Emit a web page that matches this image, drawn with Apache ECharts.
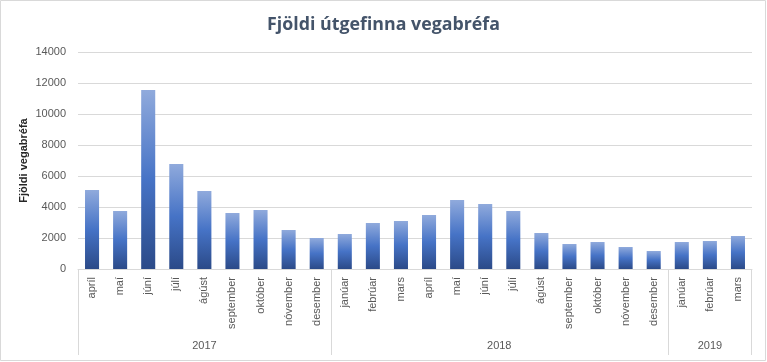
<!DOCTYPE html>
<html>
<head>
<meta charset="utf-8">
<script src="https://cdn.jsdelivr.net/npm/echarts@6/dist/echarts.min.js"></script>
<style>html,body{margin:0;padding:0;background:#fff}#c{width:767px;height:362px}</style>
</head>
<body>
<div id="c"></div>
<script>
var months = ['apríl','maí','júní','júlí','ágúst','september','október','nóvember','desember',
  'janúar','febrúar','mars','apríl','maí','júní','júlí','ágúst','september','október','nóvember','desember',
  'janúar','febrúar','mars'];
var monthYears = ['2017','2017','2017','2017','2017','2017','2017','2017','2017',
  '2018','2018','2018','2018','2018','2018','2018','2018','2018','2018','2018','2018',
  '2019','2019','2019'];
var passports = [5100, 3750, 11550, 6780, 5030, 3610, 3810, 2520, 2000,
  2260, 2970, 3100, 3480, 4450, 4190, 3740, 2320, 1610, 1740, 1420, 1160,
  1740, 1810, 2130];
var yTicks = [0, 2000, 4000, 6000, 8000, 10000, 12000, 14000];

var chart = echarts.init(document.getElementById('c'), null, {renderer: 'canvas'});
var gridLeft = 78, gridRight = 15, gridTop = 52, gridBottom = 93;
chart.setOption({
  animation: false,
  title: {
    text: 'Fjöldi útgefinna vegabréfa',
    left: 'center', top: 11,
    textStyle: {fontFamily: 'Open Sans', fontWeight: 'bold', fontSize: 17.8, color: '#44546A'}
  },
  grid: {left: gridLeft, right: gridRight, top: gridTop, bottom: gridBottom, containLabel: false},
  xAxis: {
    type: 'category',
    data: months,
    axisTick: {show: false},
    axisLine: {lineStyle: {color: '#D9D9D9', width: 1}},
    axisLabel: {rotate: 90, margin: 8, fontSize: 11, color: '#595959', fontFamily: 'Liberation Sans', interval: 0}
  },
  yAxis: {
    type: 'value',
    min: yTicks[0], max: yTicks[yTicks.length - 1], interval: 2000,
    name: 'Fjöldi vegabréfa',
    nameLocation: 'middle', nameGap: 49, nameRotate: 90, nameMoveOverlap: false,
    nameTextStyle: {fontFamily: 'Liberation Sans', fontWeight: 'bold', fontSize: 11, color: '#262626'},
    axisLine: {show: false}, axisTick: {show: false},
    splitLine: {lineStyle: {color: '#D9D9D9', width: 1}},
    axisLabel: {fontSize: 11, color: '#595959', margin: 12, fontFamily: 'Liberation Sans',
      formatter: function (v) { return String(v); }}
  },
  series: [{
    type: 'bar',
    data: passports,
    barWidth: '50%',
    itemStyle: {
      color: new echarts.graphic.LinearGradient(0, 0, 0, 1, [
        {offset: 0, color: '#90AADC'},
        {offset: 0.5, color: '#4673C6'},
        {offset: 1, color: '#2B4A88'}
      ])
    }
  }]
});

// year group labels and separators, positioned through the category axis scale
var c0 = chart.convertToPixel({xAxisIndex: 0}, 0);
var c1 = chart.convertToPixel({xAxisIndex: 0}, 1);
var band = c1 - c0;
var baseY = chart.convertToPixel({yAxisIndex: 0}, 0);
var elems = [];
var groups = [];
for (var i = 0; i < monthYears.length; i++) {
  if (i === 0 || monthYears[i] !== monthYears[i - 1]) groups.push({year: monthYears[i], start: i, end: i});
  else groups[groups.length - 1].end = i;
}
var sepBottom = baseY + 86;
groups.forEach(function (g, gi) {
  var left = chart.convertToPixel({xAxisIndex: 0}, g.start) - band / 2;
  var right = chart.convertToPixel({xAxisIndex: 0}, g.end) + band / 2;
  var lx = Math.round(left) + 0.5;
  elems.push({type: 'line', shape: {x1: lx, y1: baseY, x2: lx, y2: sepBottom}, style: {stroke: '#D9D9D9', lineWidth: 1}});
  if (gi === groups.length - 1) {
    var rx = Math.round(right) - 0.5;
    elems.push({type: 'line', shape: {x1: rx, y1: baseY, x2: rx, y2: sepBottom}, style: {stroke: '#D9D9D9', lineWidth: 1}});
  }
  elems.push({type: 'text', x: (left + right) / 2, y: baseY + 77,
    style: {text: g.year, fill: '#595959', font: '11px "Liberation Sans"', align: 'center', verticalAlign: 'middle'}});
});
elems.push({type: 'rect', shape: {x: 0.5, y: 0.5, width: 765, height: 360}, style: {fill: 'none', stroke: '#D9D9D9', lineWidth: 1}});
chart.setOption({graphic: elems});
</script>
</body>
</html>
